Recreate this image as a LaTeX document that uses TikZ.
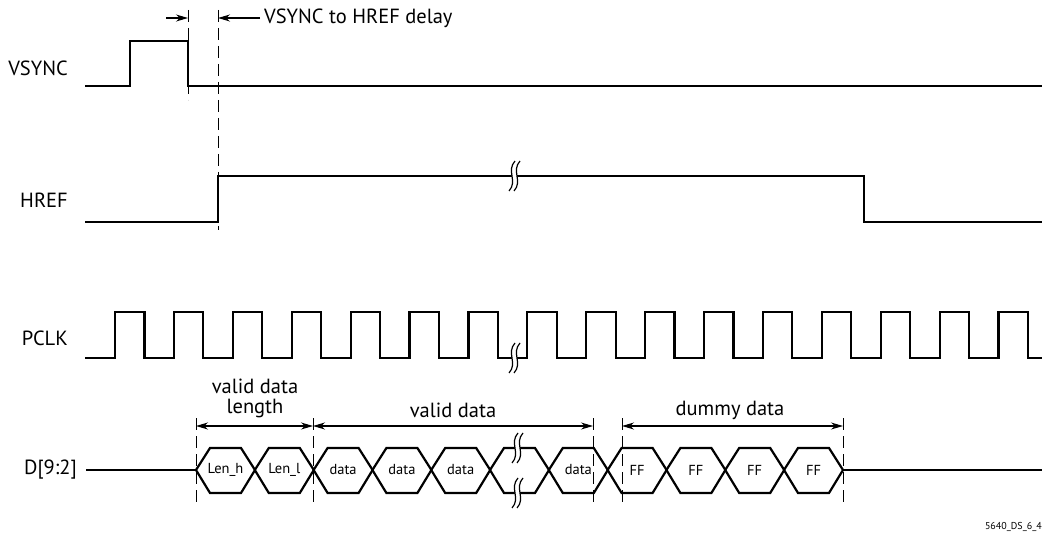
\documentclass[tikz,border=0pt]{standalone}
\usepackage{fontspec}
\setmainfont{PT Sans}
\usepackage{tikz}
\usetikzlibrary{arrows.meta}

\tikzset{
  sig/.style={line width=2.2pt, line join=miter},
  ext/.style={line width=0.9pt, dash pattern=on 12pt off 6pt},
  dim/.style={line width=1.1pt, -{Stealth[length=12pt,width=7pt]}},
  lbl/.style={font=\fontsize{20.5}{23}\selectfont, inner sep=0pt},
  cell/.style={font=\fontsize{14.5}{16}\selectfont, inner sep=0pt},
}
% break symbol: two S strokes over a white gap
\newcommand{\cutmark}[2]{%
  \draw[white, line width=5pt] (#1+5.5,#2-15) .. controls (#1-3.5,#2-5) and (#1+8.5,#2+5) .. (#1-0.5,#2+15);
  \draw[line width=1.2pt] (#1+3,#2-15) .. controls (#1-6,#2-5) and (#1+6,#2+5) .. (#1-3,#2+15);
  \draw[line width=1.2pt] (#1+8,#2-15) .. controls (#1-1,#2-5) and (#1+11,#2+5) .. (#1+2,#2+15);
}

\begin{document}
\begin{tikzpicture}[x=1pt,y=-1pt]
  \useasboundingbox (0,0) rectangle (1054,537);

  % signal names
  \node[lbl, anchor=east] (vsync) at (68,68) {VSYNC};
  \node[lbl, anchor=east] (href) at (68,200) {HREF};
  \node[lbl, anchor=east] (pclk) at (68,338) {PCLK};
  \node[lbl, anchor=east] (dbus) at (77,470) {D[9:2]};

  % VSYNC
  \draw[sig] (85,86) -- (130,86) -- (130,41) -- (188,41) -- (188,86) -- (1042,86);

  % HREF
  \draw[sig] (85,222) -- (218,222) -- (218,176) -- (864,176) -- (864,222) -- (1042,222);
  \cutmark{512}{176}

  % PCLK
  \draw[sig] (85,358) \foreach \k in {0,...,15} {
      -- ({115+58.9*\k},358) -- ({115+58.9*\k},312)
      -- ({144.4+58.9*\k},312) -- ({144.4+58.9*\k},358)} -- (1042,358);
  \cutmark{512}{358}

  % D[9:2]
  \draw[sig] (86,470) -- (196,470);
  \draw[sig] (843,470) -- (1042,470);
  \foreach \t [count=\i from 0] in {Len\_h,Len\_l,data,data,data,{},data,FF,FF,FF,FF} {
    \draw[sig] ({196+58.8*\i},470) -- ({210+58.8*\i},448) -- ({241+58.8*\i},448)
      -- ({255+58.8*\i},470) -- ({241+58.8*\i},493) -- ({210+58.8*\i},493) -- cycle;
    \node[cell] (w\i) at ({225.5+58.8*\i},470) {\t};
  }
  \cutmark{515}{448}
  \cutmark{515}{493}

  % extension lines
  \coordinate (e1t) at (188,10);  \coordinate (e1b) at (188,100);
  \coordinate (e2t) at (218,10);  \coordinate (e2b) at (218,230);
  \draw[ext] (e1t) -- (e1b);
  \draw[ext] (e2t) -- (e2b);
  \foreach \n/\x in {d1/196,d2/313,d3/593,d4/622,d5/843} {
    \coordinate (\n t) at (\x,418);
    \coordinate (\n b) at (\x,502);
    \draw[ext] (\n t) -- (\n b);
  }

  % delay
  \coordinate (a1) at (166,18);
  \coordinate (a2) at (260,18);
  \draw[dim] (a1) -- (e1t |- a1);
  \draw[dim] (a2) -- (e2t |- a2);
  \node[lbl, anchor=west] (delay) at (264,18) {VSYNC to HREF delay};

  % data spans
  \draw[dim, {Stealth[length=12pt,width=7pt]}-{Stealth[length=12pt,width=7pt]}] (196,426) -- (313,426);
  \draw[dim, {Stealth[length=12pt,width=7pt]}-{Stealth[length=12pt,width=7pt]}] (313,426) -- (593,426);
  \draw[dim, {Stealth[length=12pt,width=7pt]}-{Stealth[length=12pt,width=7pt]}] (622,426) -- (843,426);
  \node[lbl, align=center] (lenlbl) at (255,398) {valid data\\[-3pt]length};
  \node[lbl] (vdlbl) at (453,410) {valid data};
  \node[lbl] (ddlbl) at (730,410) {dummy data};

  \node[font=\fontsize{10}{12}\selectfont, anchor=east, inner sep=0pt] (tag) at (1042,527) {5640\_DS\_6\_4};
\end{tikzpicture}
\end{document}
